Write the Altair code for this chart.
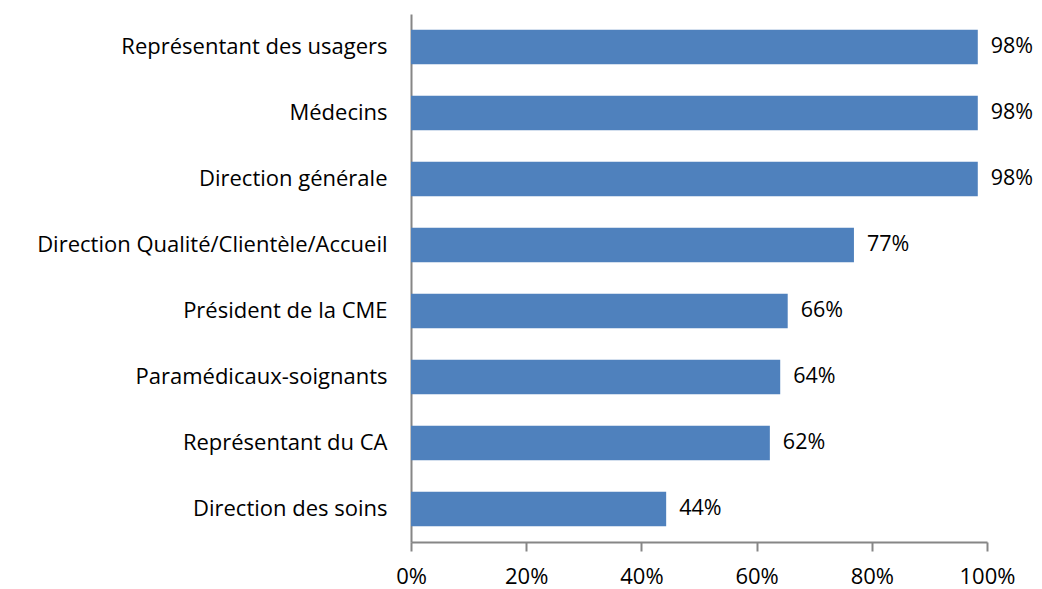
import altair as alt
import pandas as pd

categories = [
    "Représentant des usagers",
    "Médecins",
    "Direction générale",
    "Direction Qualité/Clientèle/Accueil",
    "Président de la CME",
    "Paramédicaux-soignants",
    "Représentant du CA",
    "Direction des soins",
]
values = [0.984, 0.984, 0.984, 0.769, 0.654, 0.641, 0.623, 0.443]
labels = ["98%", "98%", "98%", "77%", "66%", "64%", "62%", "44%"]

df = pd.DataFrame({"cat": categories, "val": values, "lab": labels})

FONT = "Open Sans"
GREY = "#868686"

y = alt.Y("cat:N", sort=categories, title=None,
          scale=alt.Scale(paddingInner=0.48, paddingOuter=0.24),
          axis=alt.Axis(ticks=False, labelPadding=24, labelFontSize=22, labelFont=FONT,
                        labelColor="#000000", domainColor=GREY, domainWidth=2, labelLimit=500))
x = alt.X("val:Q", title=None,
          scale=alt.Scale(domain=[0, 1], nice=False),
          axis=alt.Axis(format=".0%", values=[0, 0.2, 0.4, 0.6, 0.8, 1.0], grid=False,
                        labelFlush=False, labelOverlap=False,
                        tickSize=9, tickColor=GREY, tickWidth=2, domainColor=GREY, domainWidth=2,
                        labelFontSize=22, labelFont=FONT, labelColor="#000000", labelPadding=15))

bars = alt.Chart(df).mark_bar(color="#4F81BD").encode(x=x, y=y)
text = alt.Chart(df).mark_text(align="left", dx=13, fontSize=21.5, font=FONT, color="#000000").encode(
    x=alt.X("val:Q"), y=alt.Y("cat:N", sort=categories), text="lab:N")

chart = (bars + text).properties(
    width=576, height=528,
    background="white",
    autosize=alt.AutoSizeParams(type="none"),
    padding={"left": 403, "top": 6, "right": 47, "bottom": 46},
).configure_view(stroke=None)

chart.save("out.html", embed_options={"renderer": "svg", "actions": False})
